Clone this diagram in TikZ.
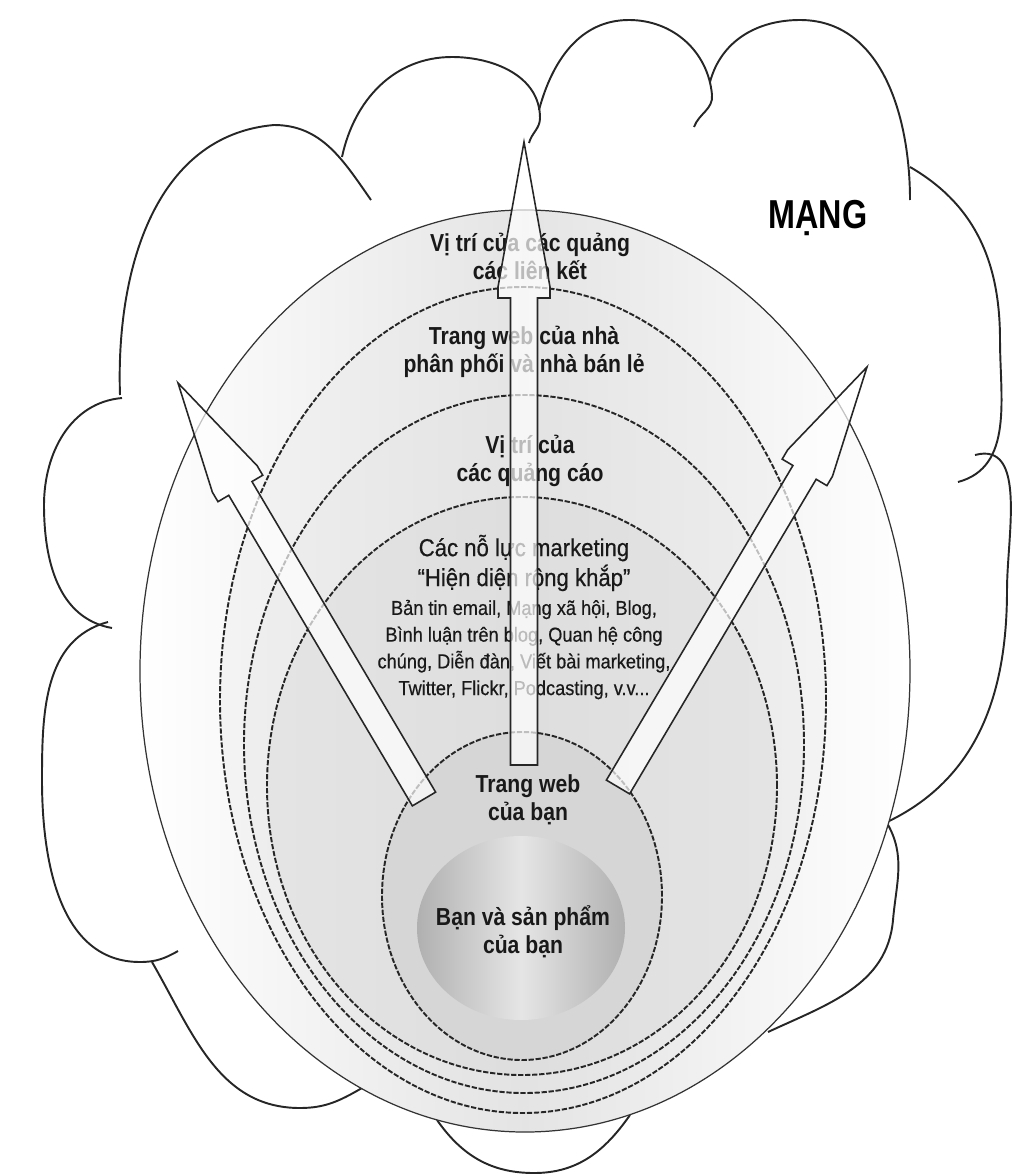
\documentclass[tikz,border=0pt]{standalone}
\usepackage{fontspec}
\setmainfont[FakeStretch=0.9, FakeBold=0.5]{Liberation Sans}
\newfontfamily\vetfont[FakeStretch=0.86]{Liberation Sans}
\newfontfamily\mangfont[FakeStretch=0.8]{Liberation Sans}
\usetikzlibrary{shapes.geometric, arrows, positioning, calc}

% blokpijl: naam, voet, punt, kop, trede
\newcommand{\blokpijl}[5]{%
  \coordinate (#1kb) at ($(#3)!#4!(#2)$);
  \coordinate (#1ks) at ($(#3)!#5!(#2)$);
  \draw [pijl] ($(#2)!2.7mm!90:(#3)$) -- ($(#1kb)!2.7mm!90:(#3)$) -- ($(#1kb)!5.2mm!90:(#3)$) -- ($(#1ks)!5.2mm!90:(#3)$) -- (#3) -- ($(#1ks)!5.2mm!-90:(#3)$) -- ($(#1kb)!5.2mm!-90:(#3)$) -- ($(#1kb)!2.7mm!-90:(#3)$) -- ($(#2)!2.7mm!-90:(#3)$) -- cycle;
}

\begin{document}
\begin{tikzpicture}[x=0.2mm, y=-0.2mm]
    % Stijlen
    \tikzstyle{wolk} = [line width=1.1pt, draw=black!85]
    \tikzstyle{schil} = [ellipse, inner sep=0pt, draw=black!80, line width=0.7pt]
    \tikzstyle{schijf} = [ellipse, inner sep=0pt, draw=black!85, line width=1.1pt, dash pattern=on 3pt off 1pt]
    \tikzstyle{tekst} = [align=center, text=black!90, inner sep=0pt, font=\vetfont\bfseries\fontsize{14}{16}\selectfont]
    \tikzstyle{pijl} = [draw=black!85, line width=0.9pt, fill=white, fill opacity=0.7, line join=miter]

    \useasboundingbox (0,0) rectangle (1011,1175);

    % Wolk
    \draw [wolk] (120,395) to[out=92,in=185] (274,125) to[out=0,in=125] (371,200);
    \draw [wolk] (342,157) to[out=78,in=180] (452,57) to[out=0,in=90] (540,118) to[out=-90,in=75] (529,143);
    \draw [wolk] (539,110) to[out=75,in=180] (629,20) to[out=0,in=95] (712,95) to[out=-85,in=70] (694,127);
    \draw [wolk] (710,82) to[out=75,in=180] (800,20) to[out=0,in=90] (910,200);
    \draw [wolk] (910,167) to[out=-30,in=90] (1000,340) to[out=-90,in=15] (958,482);
    \draw [wolk] (975,455) to[out=15,in=90] (1007,590) to[out=-90,in=25] (885,823);
    \draw [wolk] (887,823) to[out=-60,in=85] (893,920) to[out=-95,in=25] (768,1032);
    \draw [wolk] (630,1115) to[out=-125,in=0] (534,1173) to[out=180,in=-55] (437,1120);
    \draw [wolk] (362,1088) to[out=-150,in=0] (300,1108) to[out=180,in=-60] (152,962);
    \draw [wolk] (108,622) to[out=195,in=90] (42,780) to[out=-90,in=180] (140,962) to[out=0,in=-150] (178,951);
    \draw [wolk] (122,398) to[out=185,in=90] (44,505) to[out=-90,in=170] (112,628);

    % Ellipsen
    \node (net) [schil, minimum width=154mm, minimum height=184.4mm, left color=white, right color=white, middle color=gray!21] at (525,671) {};
    \node (ring1) [schijf, minimum width=121.2mm, minimum height=165.2mm, left color=gray!9, right color=gray!9, middle color=gray!21] at (523,700) {};
    \node (ring2) [schijf, minimum width=112mm, minimum height=139.6mm, left color=gray!13, right color=gray!13, middle color=gray!22] at (524,744) {};
    \node (ring3) [schijf, minimum width=102mm, minimum height=115.6mm, left color=gray!21, right color=gray!21, middle color=gray!26] at (522,786) {};
    \node (web) [schijf, minimum width=56mm, minimum height=65.6mm, fill=gray!32] at (522,896) {};
    \node (kern) [ellipse, inner sep=0pt, minimum width=41.6mm, minimum height=36.8mm, left color=gray!62, right color=gray!62, middle color=gray!20] at (521,928) {};

    % Teksten
    \node (mang) [text=black, font=\mangfont\bfseries\fontsize{23}{26}\selectfont] at (818,218) {MẠNG};
    \node (kop1) [tekst] at (530,256) {Vị trí của các quảng\\các liên kết};
    \node (kop2) [tekst] at (524,352) {Trang web của nhà\\phân phối và nhà bán lẻ};
    \node (kop3) [tekst] at (530,461) {Vị trí của\\các quảng cáo};
    \node (kop4) [tekst, font=\fontsize{14}{17}\selectfont] at (524,563) {Các nỗ lực marketing\\“Hiện diện rộng khắp”};
    \node (lijst) [tekst, font=\fontsize{11.5}{15.2}\selectfont, below=1.6mm of kop4] {Bản tin email, Mạng xã hội, Blog,\\Bình luận trên blog, Quan hệ công\\chúng, Diễn đàn, Viết bài marketing,\\Twitter, Flickr, Podcasting, v.v...};
    \node (webtekst) [tekst] at (528,800) {Trang web\\của bạn};
    \node (kerntekst) [tekst] at (523,932) {Bạn và sản phẩm\\của bạn};

    % Pijlen
    \coordinate (midvoet) at (524,765);
    \coordinate (midpunt) at (524,142);
    \coordinate (linksvoet) at (424,799);
    \coordinate (linkspunt) at (178,383);
    \coordinate (rechtsvoet) at (618,787);
    \coordinate (rechtspunt) at (867,367);
    \blokpijl{mid}{midvoet}{midpunt}{31.2mm}{29mm}
    \blokpijl{links}{linksvoet}{linkspunt}{24.5mm}{22.3mm}
    \blokpijl{rechts}{rechtsvoet}{rechtspunt}{24.5mm}{22.3mm}

\end{tikzpicture}
\end{document}
